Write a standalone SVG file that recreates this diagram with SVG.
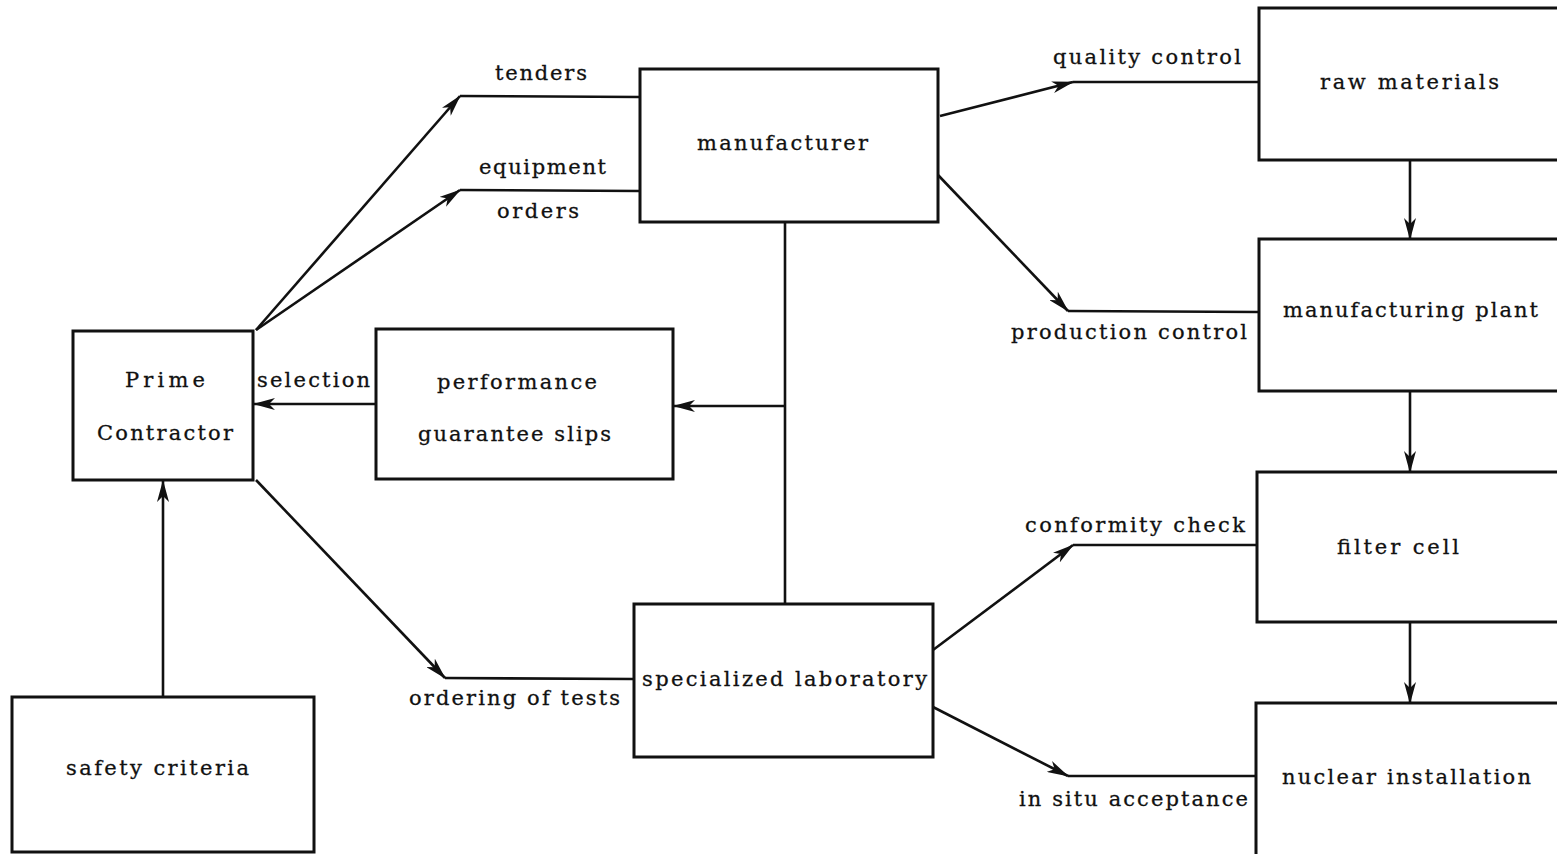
<svg xmlns="http://www.w3.org/2000/svg" width="1557" height="854" viewBox="0 0 1557 854">
<style>
.box{fill:#fff;stroke:#111;stroke-width:3}
.ln{fill:none;stroke:#111;stroke-width:2.6}
text{font-family:"DejaVu Serif","Liberation Serif",serif;font-size:21px;fill:#111;stroke:#111;stroke-width:0.3}
</style>
<defs>
<marker id="ah" viewBox="0 0 22 12" refX="21" refY="6" markerWidth="22" markerHeight="12" markerUnits="userSpaceOnUse" orient="auto">
<path d="M0,0 L22,6 L0,12 L6,6 z" fill="#111"/>
</marker>
</defs>
<rect width="1557" height="854" fill="#fff"/>
<g id="connectors">
<path class="ln" d="M256,330 L460,96" marker-end="url(#ah)"/>
<path class="ln" d="M460,96 L640,97"/>
<path class="ln" d="M256,330 L460,190" marker-end="url(#ah)"/>
<path class="ln" d="M460,190 L640,191"/>
<path class="ln" d="M940,116 L1073,82" marker-end="url(#ah)"/>
<path class="ln" d="M1073,82 L1259,82"/>
<path class="ln" d="M938,175 L1068,311" marker-end="url(#ah)"/>
<path class="ln" d="M1068,311 L1259,312"/>
<path class="ln" d="M785,222 L785,604"/>
<path class="ln" d="M785,406 L674,406" marker-end="url(#ah)"/>
<path class="ln" d="M376,404 L254,404" marker-end="url(#ah)"/>
<path class="ln" d="M256,480 L445,678" marker-end="url(#ah)"/>
<path class="ln" d="M445,678 L634,679"/>
<path class="ln" d="M933,650 L1073,545" marker-end="url(#ah)"/>
<path class="ln" d="M1073,545 L1257,545"/>
<path class="ln" d="M933,707 L1068,776" marker-end="url(#ah)"/>
<path class="ln" d="M1068,776 L1256,776"/>
<path class="ln" d="M163,697 L163,481" marker-end="url(#ah)"/>
<path class="ln" d="M1410,160 L1410,239" marker-end="url(#ah)"/>
<path class="ln" d="M1410,391 L1410,472" marker-end="url(#ah)"/>
<path class="ln" d="M1410,622 L1410,703" marker-end="url(#ah)"/>
</g>
<g id="labels">
<text x="495" y="80" textLength="92" lengthAdjust="spacing">tenders</text>
<text x="479" y="174" textLength="127" lengthAdjust="spacing">equipment</text>
<text x="497" y="218" textLength="82" lengthAdjust="spacing">orders</text>
<text x="1053" y="64" textLength="188" lengthAdjust="spacing">quality control</text>
<text x="1011" y="339" textLength="236" lengthAdjust="spacing">production control</text>
<text x="257" y="387" textLength="113" lengthAdjust="spacing">selection</text>
<text x="1025" y="532" textLength="220" lengthAdjust="spacing">conformity check</text>
<text x="409" y="705" textLength="211" lengthAdjust="spacing">ordering of tests</text>
<text x="1019" y="806" textLength="229" lengthAdjust="spacing">in situ acceptance</text>
</g>
<g id="manufacturer">
<rect class="box" x="640" y="69" width="298" height="153"/>
<text x="697" y="150" textLength="171" lengthAdjust="spacing">manufacturer</text>
</g>
<g id="raw-materials">
<rect class="box" x="1259" y="8" width="310" height="152"/>
<text x="1320" y="89" textLength="179" lengthAdjust="spacing">raw materials</text>
</g>
<g id="manufacturing-plant">
<rect class="box" x="1259" y="239" width="310" height="152"/>
<text x="1283" y="317" textLength="255" lengthAdjust="spacing">manufacturing plant</text>
</g>
<g id="filter-cell">
<rect class="box" x="1257" y="472" width="312" height="150"/>
<text x="1337" y="554" textLength="122" lengthAdjust="spacing">filter cell</text>
</g>
<g id="nuclear-installation">
<rect class="box" x="1256" y="703" width="313" height="160"/>
<text x="1282" y="784" textLength="249" lengthAdjust="spacing">nuclear installation</text>
</g>
<g id="prime-contractor">
<rect class="box" x="73" y="331" width="180" height="149"/>
<text x="125" y="387" textLength="80" lengthAdjust="spacing">Prime</text>
<text x="97" y="440" textLength="136" lengthAdjust="spacing">Contractor</text>
</g>
<g id="performance-guarantee-slips">
<rect class="box" x="376" y="329" width="297" height="150"/>
<text x="437" y="389" textLength="160" lengthAdjust="spacing">performance</text>
<text x="418" y="441" textLength="193" lengthAdjust="spacing">guarantee slips</text>
</g>
<g id="specialized-laboratory">
<rect class="box" x="634" y="604" width="299" height="153"/>
<text x="642" y="686" textLength="285" lengthAdjust="spacing">specialized laboratory</text>
</g>
<g id="safety-criteria">
<rect class="box" x="12" y="697" width="302" height="155"/>
<text x="66" y="775" textLength="183" lengthAdjust="spacing">safety criteria</text>
</g>
</svg>
